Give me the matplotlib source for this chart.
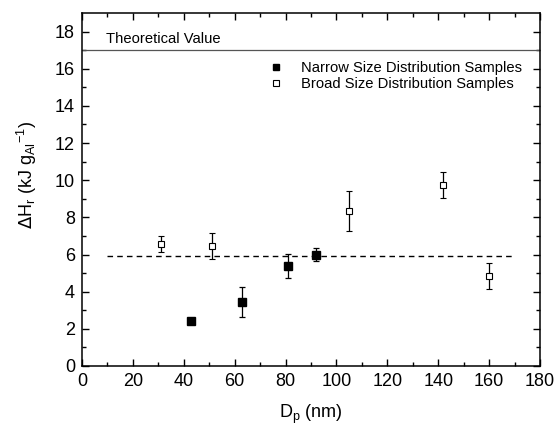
import numpy as np
import matplotlib.pyplot as plt
from matplotlib.lines import Line2D

plt.rcParams['font.family'] = ['Liberation Sans', 'DejaVu Sans']

# Narrow size distribution samples
narrow_d = [43, 63, 81, 92]
narrow_h = [2.42, 3.45, 5.4, 6.0]
narrow_err = [0.0, 0.82, 0.65, 0.33]

# Broad size distribution samples
broad_d = [31, 51, 105, 142, 160]
broad_h = [6.55, 6.45, 8.35, 9.75, 4.85]
broad_err = [0.43, 0.69, 1.08, 0.69, 0.68]

theory = 17.0
mean_h = 5.92
mean_span = [10, 169]

fig = plt.figure(figsize=(5.59, 4.25), dpi=100)
ax = fig.add_axes([82/559, 1-366/425, (540-82)/559, (366-13)/425])

ax.axhline(theory, color='#555555', lw=0.9)
ax.text(9.5, 17.6, 'Theoretical Value', fontsize=10.6, va='center')
ax.plot(mean_span, [mean_h, mean_h], 'k--', lw=1.0, dashes=(4, 3))

ax.errorbar(narrow_d, narrow_h, yerr=narrow_err, fmt='s', color='black',
            mfc='black', ms=6, capsize=2.5, elinewidth=0.9, capthick=0.9)
ax.errorbar(broad_d, broad_h, yerr=broad_err, fmt='s', color='black',
            mfc='white', ms=5, mew=0.8, capsize=2.5, elinewidth=0.9, capthick=0.9)

ax.set_xlim(0, 180)
ax.set_ylim(0, 19)
ax.set_xticks(np.arange(0, 181, 20))
ax.set_xticks(np.arange(10, 180, 20), minor=True)
ax.set_yticks(np.arange(0, 19, 2))
ax.set_yticks(np.arange(1, 19, 2), minor=True)
ax.tick_params(which='both', direction='in', top=True, right=True, labelsize=13, width=1.0)
ax.tick_params(which='major', length=5, pad=5)
ax.tick_params(which='minor', length=3)
for s in ax.spines.values():
    s.set_linewidth(1.1)

ax.set_xlabel('D$_\\mathregular{p}$ (nm)', fontsize=13, va='center')
ax.xaxis.set_label_coords(0.5, -0.138)
ax.set_ylabel('$\\Delta$H$_\\mathregular{r}$ (kJ g$_\\mathregular{Al}$$^\\mathregular{-1}$)',
              fontsize=13, va='center')
ax.yaxis.set_label_coords(-0.12, 0.54)

handles = [Line2D([], [], ls='none', marker='s', color='black', mfc='black', ms=5),
           Line2D([], [], ls='none', marker='s', color='black', mfc='white', ms=5, mew=0.8)]
labels = ['Narrow Size Distribution Samples', 'Broad Size Distribution Samples']
ax.legend(handles, labels, loc='upper left', bbox_to_anchor=((272-82)/458, 1-(61-13)/353),
          frameon=False, fontsize=10.6, handlelength=0.6, handletextpad=1.4,
          labelspacing=0.15, borderaxespad=0, borderpad=0)

fig.savefig('out.png', dpi=100)
